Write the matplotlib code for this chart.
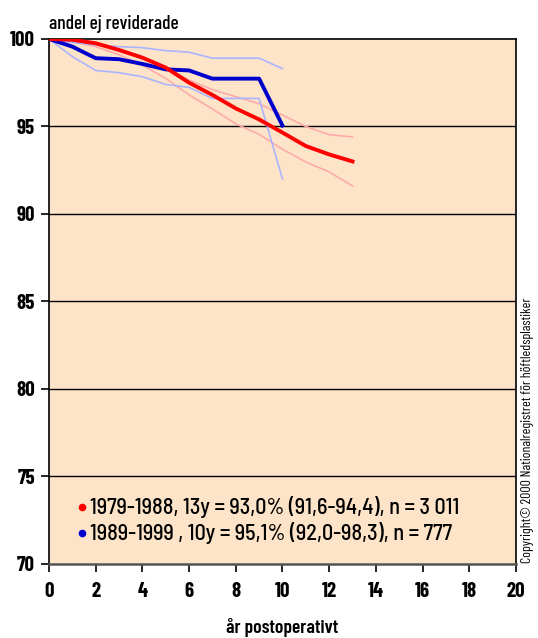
import matplotlib.pyplot as plt

# ---- Data ----
years_a = list(range(0, 14))
rev_a = [100, 99.95, 99.75, 99.37, 98.93, 98.36, 97.5, 96.8, 96.03, 95.4, 94.65, 93.88, 93.4, 93.0]
rev_a_hi = [100, 100, 99.8, 99.3, 98.9, 98.4, 97.65, 97.1, 96.7, 96.3, 95.65, 95.0, 94.53, 94.4]
rev_a_lo = [100, 99.85, 99.56, 99.1, 98.5, 97.75, 96.8, 96.0, 95.15, 94.55, 93.7, 92.97, 92.4, 91.6]

years_b = list(range(0, 11))
rev_b = [100, 99.56, 98.9, 98.84, 98.57, 98.26, 98.2, 97.73, 97.73, 97.73, 95.05]
rev_b_hi = [100, 99.8, 99.66, 99.56, 99.5, 99.33, 99.24, 98.9, 98.9, 98.9, 98.3]
rev_b_lo = [100, 98.99, 98.2, 98.07, 97.84, 97.4, 97.23, 96.6, 96.6, 96.6, 92.0]

labels = [
    "1979-1988, 13y = 93,0% (91,6-94,4), n = 3 011",
    "1989-1999 , 10y = 95,1% (92,0-98,3), n = 777",
]
xticks = list(range(0, 21, 2))
yticks = [70, 75, 80, 85, 90, 95, 100]

plt.rcParams["font.family"] = ["Barlow Condensed", "DejaVu Sans"]

fig = plt.figure(figsize=(5.38, 6.38), dpi=100)
ax = fig.add_axes([0.091, 0.116, 0.868, 0.823])
ax.set_facecolor("#FDE4C8")

for y in yticks[1:-1]:
    ax.axhline(y, color="black", lw=1.0, zorder=1)

ax.plot(years_a, rev_a_hi, color="#FFAAAA", lw=1.2, zorder=2)
ax.plot(years_a, rev_a_lo, color="#FFAAAA", lw=1.2, zorder=2)
ax.plot(years_b, rev_b_hi, color="#AAB4FF", lw=1.2, zorder=2)
ax.plot(years_b, rev_b_lo, color="#AAB4FF", lw=1.2, zorder=2)
ax.plot(years_b, rev_b, color="#0000CC", lw=2.8, zorder=3)
ax.plot(years_a, rev_a, color="#FF0000", lw=2.8, zorder=4)

ax.set_xlim(0, 20)
ax.set_ylim(70, 100)
ax.set_xticks(xticks)
ax.set_yticks(yticks)
ax.tick_params(axis="both", direction="out", length=6, width=1.2, labelsize=15)
ax.tick_params(axis="x", pad=7)
ax.tick_params(axis="y", pad=4)
for lbl in ax.get_xticklabels() + ax.get_yticklabels():
    lbl.set_fontweight("bold")
for side in ["top", "right", "left", "bottom"]:
    ax.spines[side].set_color("black")
    ax.spines[side].set_linewidth(1.2)
ax.spines["bottom"].set_color("#555555")
ax.spines["bottom"].set_linewidth(1.8)

ax.text(0.0, 1.012, "andel ej reviderade", transform=ax.transAxes,
        fontsize=14, ha="left", va="bottom", fontweight="medium")
fig.text(0.525, 0.016, "år postoperativt", fontsize=14, fontweight="semibold",
         ha="center", va="center")

# legend-like text block
for k, (lbl, col) in enumerate(zip(labels, ["#FF0000", "#0000CC"])):
    yy = 0.108 - k * 0.0495
    ax.plot([0.070], [yy], marker="o", ms=4.5, color=col,
            transform=ax.transAxes, clip_on=False, zorder=5)
    ax.text(0.087, yy, lbl, transform=ax.transAxes, fontsize=16,
            ha="left", va="center", fontweight="medium",
            family=["Barlow Semi Condensed", "DejaVu Sans"])

fig.text(0.981, 0.326, "Copyright© 2000 Nationalregistret för höftledsplastiker",
         rotation=90, fontsize=10, ha="center", va="center")

fig.savefig("out.png", dpi=100, facecolor="white")
